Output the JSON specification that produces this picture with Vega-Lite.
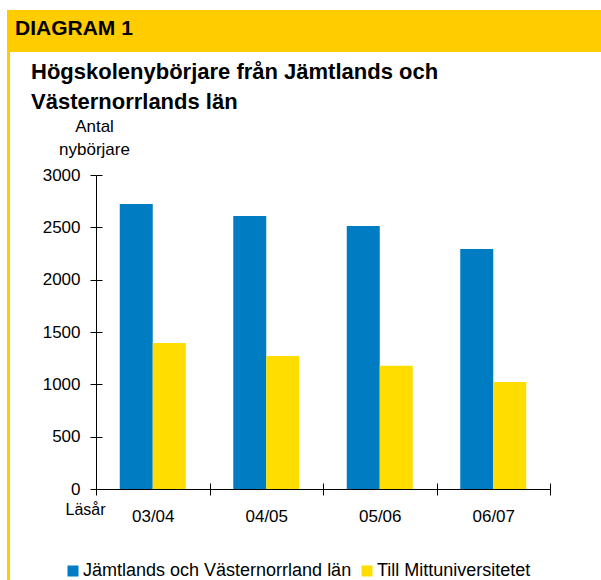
{
  "$schema": "https://vega.github.io/schema/vega-lite/v6.json",
  "padding": {"left": 7, "top": 10, "right": 0, "bottom": 0},
  "background": "white",
  "config": {
    "view": {"stroke": null},
    "font": "Liberation Sans",
    "concat": {"spacing": 0}
  },
  "datasets": {
    "bars": [
      {"season": "03/04", "series": "Jämtlands och Västernorrland län", "value": 2723},
      {"season": "03/04", "series": "Till Mittuniversitetet", "value": 1395},
      {"season": "04/05", "series": "Jämtlands och Västernorrland län", "value": 2608},
      {"season": "04/05", "series": "Till Mittuniversitetet", "value": 1271},
      {"season": "05/06", "series": "Jämtlands och Västernorrland län", "value": 2513},
      {"season": "05/06", "series": "Till Mittuniversitetet", "value": 1178},
      {"season": "06/07", "series": "Jämtlands och Västernorrland län", "value": 2293},
      {"season": "06/07", "series": "Till Mittuniversitetet", "value": 1022}
    ],
    "header": [{"label": "DIAGRAM 1"}]
  },
  "spacing": -86,
  "resolve": {"scale": {"color": "independent"}, "legend": {"color": "independent"}},
  "hconcat": [
    {
      "spacing": 0,
      "vconcat": [
        {
          "width": 89,
          "height": 42,
          "view": {"fill": "#FFCC00", "stroke": null},
          "data": {"values": []},
          "mark": "point"
        },
        {
          "width": 3,
          "height": 528,
          "view": {"fill": "#FFCC00", "stroke": null},
          "data": {"values": []},
          "mark": "point"
        }
      ]
    },
    {
      "spacing": 5,
      "resolve": {"scale": {"color": "independent"}, "legend": {"color": "independent"}},
      "vconcat": [
        {
          "width": 505,
          "height": 42,
          "view": {"fill": "#FFCC00", "stroke": null},
          "data": {"name": "header"},
          "mark": {"type": "text", "align": "left", "baseline": "alphabetic", "dx": -81, "fontSize": 21, "fontWeight": "bold", "font": "Liberation Sans", "color": "black"},
          "encoding": {
            "text": {"field": "label"},
            "x": {"datum": 0, "type": "quantitative", "scale": {"domain": [0, 1]}, "axis": null},
            "y": {"datum": 0.405, "type": "quantitative", "scale": {"domain": [0, 1]}, "axis": null}
          }
        },
        {
          "width": 454,
          "height": 314,
          "data": {"name": "bars"},
          "title": {
            "text": ["Högskolenybörjare från Jämtlands och", "Västernorrlands län"],
            "anchor": "start",
            "frame": "group",
            "dx": -65,
            "fontSize": 22,
            "fontWeight": "bold",
            "font": "Liberation Sans",
            "color": "black",
            "lineHeight": 30,
            "offset": -56
          },
          "resolve": {"axis": {"x": "independent", "y": "independent"}},
          "layer": [
            {
              "mark": {"type": "bar"},
              "encoding": {
                "x": {
                  "field": "season", "type": "nominal", "sort": null,
                  "scale": {"paddingInner": 0, "paddingOuter": 0},
                  "axis": {
                    "orient": "bottom", "title": "Läsår", "titleAngle": 0,
                    "titleX": -11, "titleY": 25, "titleAlign": "center", "titleBaseline": "alphabetic",
                    "titleFontSize": 16, "titleFontWeight": "normal", "titleFont": "Liberation Sans", "titleColor": "black",
                    "labelAngle": 0, "labelFontSize": 17, "labelFont": "Liberation Sans", "labelColor": "black", "labelPadding": 13,
                    "tickBand": "extent", "tickSize": 6, "tickColor": "black", "domainColor": "black",
                    "labelBaseline": "top"
                  }
                },
                "xOffset": {
                  "field": "series", "type": "nominal",
                  "scale": {"domain": ["Jämtlands och Västernorrland län", "Till Mittuniversitetet"], "paddingInner": 0, "paddingOuter": 0.72}
                },
                "y": {
                  "field": "value", "type": "quantitative",
                  "scale": {"domain": [0, 3000], "nice": false},
                  "axis": {
                    "orient": "left", "values": [0, 500, 1000, 1500, 2000, 2500, 3000], "grid": false, "format": "d",
                    "title": ["Antal", "nybörjare"], "titleAngle": 0, "titleX": -2, "titleY": -44,
                    "titleAlign": "center", "titleBaseline": "alphabetic", "titleLineHeight": 23,
                    "titleFontSize": 17, "titleFontWeight": "normal", "titleFont": "Liberation Sans", "titleColor": "black",
                    "labelFontSize": 17, "labelFont": "Liberation Sans", "labelColor": "black", "labelPadding": 10,
                    "tickSize": 6, "tickColor": "black", "domainColor": "black", "minExtent": 86
                  }
                },
                "color": {
                  "field": "series", "type": "nominal",
                  "scale": {"domain": ["Jämtlands och Västernorrland län", "Till Mittuniversitetet"], "range": ["#007CC3", "#FFDD00"]},
                  "legend": {
                    "orient": "none", "legendX": -32, "legendY": 387, "direction": "horizontal", "title": null,
                    "symbolType": "square", "symbolSize": 121, "symbolStrokeWidth": 0, "symbolOpacity": 1,
                    "labelFontSize": 18, "labelFont": "Liberation Sans", "labelColor": "black", "labelLimit": 400,
                    "labelOffset": 1, "columnPadding": 6
                  }
                }
              }
            },
            {
              "mark": {"type": "bar", "opacity": 0},
              "encoding": {
                "x": {
                  "field": "season", "type": "nominal", "sort": null,
                  "axis": {
                    "orient": "bottom", "offset": -6, "labels": false, "domain": false, "title": null,
                    "tickBand": "extent", "tickSize": 6, "tickColor": "black"
                  }
                },
                "y": {
                  "field": "value", "type": "quantitative",
                  "axis": {
                    "orient": "left", "offset": -6, "labels": false, "domain": false, "title": null, "grid": false,
                    "values": [0, 500, 1000, 1500, 2000, 2500, 3000], "tickSize": 6, "tickColor": "black"
                  }
                }
              }
            }
          ]
        }
      ]
    }
  ]
}
